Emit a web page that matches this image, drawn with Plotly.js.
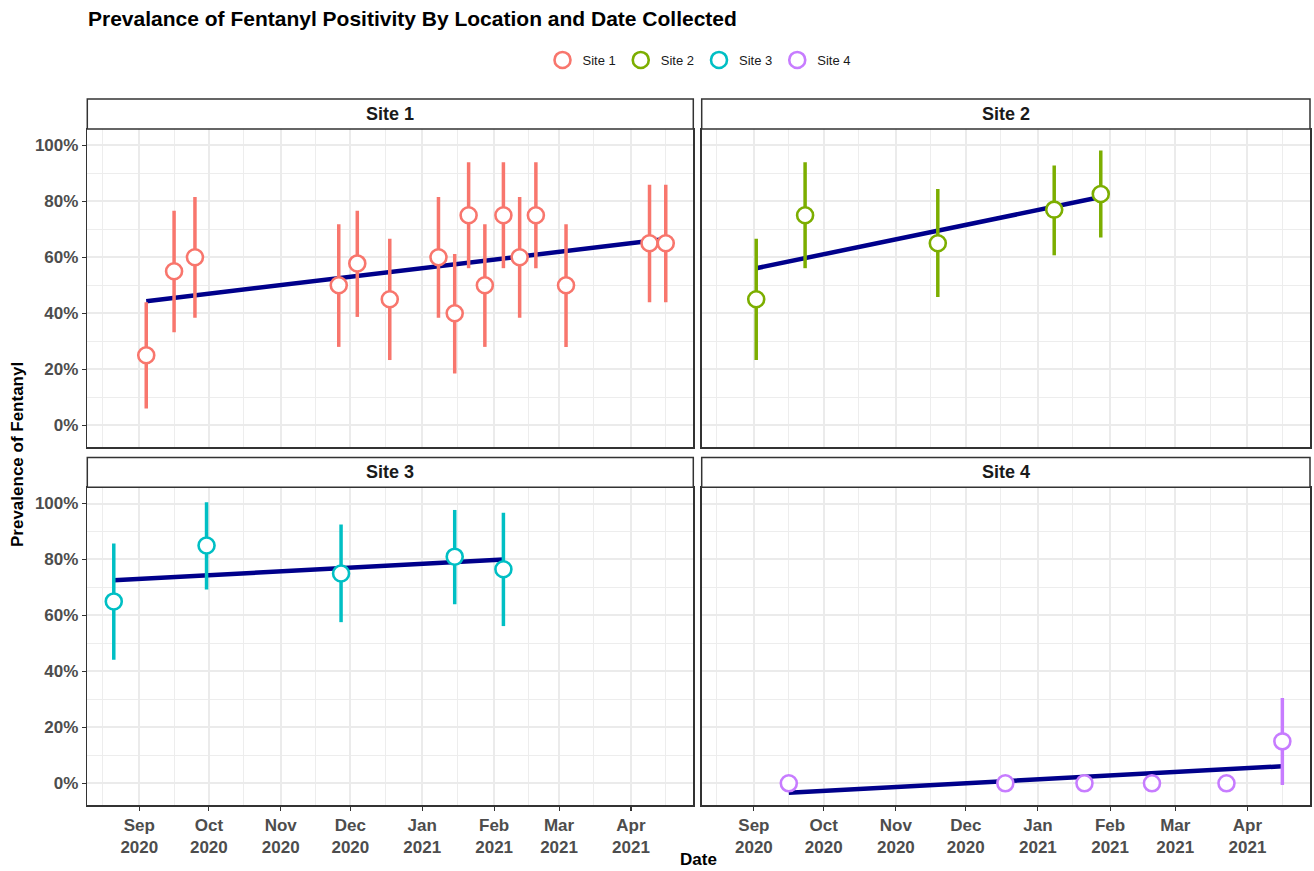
<!DOCTYPE html>
<html>
<head>
<meta charset="utf-8">
<script src="https://cdn.plot.ly/plotly-3.0.1.min.js"></script>
<style>html,body{margin:0;padding:0;background:#fff;}#chart{width:1314px;height:871px;}</style>
</head>
<body>
<div id="chart"></div>
<script>
// ---- data ----
const siteNames = ['Site 1', 'Site 2', 'Site 3', 'Site 4'];
const siteColors = ['#F8766D', '#7CAE00', '#00BFC4', '#C77CFF'];

const site1Dates = ['2020-09-04','2020-09-16','2020-09-25','2020-11-26','2020-12-04','2020-12-18','2021-01-08','2021-01-15','2021-01-21','2021-01-28','2021-02-05','2021-02-12','2021-02-19','2021-03-04','2021-04-09','2021-04-16'];
const site1Prev  = [0.25, 0.55, 0.60, 0.50, 0.578, 0.45, 0.60, 0.40, 0.75, 0.50, 0.75, 0.60, 0.75, 0.50, 0.65, 0.65];
const site1Lower = [0.060, 0.332, 0.384, 0.280, 0.387, 0.233, 0.384, 0.185, 0.561, 0.280, 0.561, 0.384, 0.561, 0.280, 0.439, 0.439];
const site1Upper = [0.439, 0.766, 0.815, 0.718, 0.766, 0.666, 0.815, 0.612, 0.939, 0.718, 0.939, 0.815, 0.939, 0.718, 0.859, 0.859];

const site2Dates = ['2020-09-02','2020-09-23','2020-11-19','2021-01-08','2021-01-28'];
const site2Prev  = [0.45, 0.75, 0.65, 0.77, 0.826];
const site2Lower = [0.233, 0.561, 0.458, 0.607, 0.671];
const site2Upper = [0.666, 0.939, 0.844, 0.928, 0.981];

const site3Dates = ['2020-08-21','2020-09-30','2020-11-27','2021-01-15','2021-02-05'];
const site3Prev  = [0.65, 0.85, 0.75, 0.81, 0.765];
const site3Lower = [0.442, 0.693, 0.576, 0.640, 0.562];
const site3Upper = [0.857, 1.005, 0.925, 0.977, 0.967];

const site4Dates = ['2020-09-16','2020-12-18','2021-01-21','2021-02-19','2021-03-23','2021-04-16'];
const site4Prev  = [0, 0, 0, 0, 0, 0.15];
const site4Lower = [0, 0, 0, 0, 0, -0.006];
const site4Upper = [0, 0, 0, 0, 0, 0.305];

// fitted trend lines (endpoints)
const trendDates = [['2020-09-04','2021-04-16'], ['2020-09-02','2021-01-28'], ['2020-08-21','2021-02-05'], ['2020-09-16','2021-04-16']];
const trendPrev  = [[0.443, 0.665], [0.561, 0.815], [0.726, 0.800], [-0.034, 0.061]];

const xTickStart = '2020-09-01';
const title = 'Prevalance of Fentanyl Positivity By Location and Date Collected';
const xTitle = 'Date';
const yTitle = 'Prevalence of Fentanyl';

// ---- build ----
const W = 1314, H = 871;
const FONT = 'Liberation Sans, Arial, sans-serif';
const px = v => v / W;
const py = v => 1 - v / H;

const dates = [site1Dates, site2Dates, site3Dates, site4Dates];
const prev = [site1Prev, site2Prev, site3Prev, site4Prev];
const lower = [site1Lower, site2Lower, site3Lower, site4Lower];
const upper = [site1Upper, site2Upper, site3Upper, site4Upper];

const colX = [[87.3, 693.3], [701.7, 1310]];
const rowY = [[129, 447], [487.3, 805]];
const stripY = [[99, 129], [457.5, 487.3]];

const traces = [];
const shapes = [];
const annotations = [];
const layout = {
  width: W, height: H,
  margin: {l: 0, r: 0, t: 0, b: 0},
  paper_bgcolor: '#fff', plot_bgcolor: '#fff',
  font: {family: FONT, color: '#1A1A1A'},
  title: {text: title, x: px(88), xanchor: 'left', y: py(19), yanchor: 'middle',
          font: {family: FONT, size: 21, weight: 'bold', color: '#000'}},
  showlegend: true,
  legend: {orientation: 'h', x: px(699), xanchor: 'center', y: py(60), yanchor: 'middle',
           font: {family: FONT, size: 13, color: '#1A1A1A'}, itemwidth: 30, bgcolor: 'rgba(0,0,0,0)'},
  shapes: shapes, annotations: annotations
};

for (let i = 0; i < 4; i++) {
  const r = Math.floor(i / 2), c = i % 2;
  const sfx = i === 0 ? '' : String(i + 1);
  const xa = 'x' + sfx, ya = 'y' + sfx;
  layout['xaxis' + sfx] = {
    domain: [px(colX[c][0]), px(colX[c][1])], anchor: ya,
    type: 'date', range: ['2020-08-09 14:00', '2021-04-27 21:00'],
    dtick: 'M1', tick0: xTickStart, tickformat: '%b<br>%Y',
    showgrid: true, gridcolor: '#EBEBEB', gridwidth: 2,
    minor: {dtick: 'M1', tick0: '2020-08-16', showgrid: true, gridcolor: '#EDEDED', gridwidth: 1},
    showline: true, mirror: true, linecolor: '#333333', linewidth: 1.5, zeroline: false,
    ticks: r === 1 ? 'outside' : '', ticklen: 4, tickcolor: '#333333', tickwidth: 1.1,
    showticklabels: r === 1,
    tickfont: {family: FONT, size: 17, weight: 'bold', color: '#4D4D4D'},
    fixedrange: true
  };
  layout['yaxis' + sfx] = {
    domain: [py(rowY[r][1]), py(rowY[r][0])], anchor: xa,
    range: [-0.0775, 1.058], dtick: 0.2, tick0: 0, tickformat: '.0%',
    showgrid: true, gridcolor: '#EBEBEB', gridwidth: 2,
    minor: {dtick: 0.1, tick0: 0, showgrid: true, gridcolor: '#EDEDED', gridwidth: 1},
    showline: true, mirror: true, linecolor: '#333333', linewidth: 1.5, zeroline: false,
    ticks: c === 0 ? 'outside' : '', ticklen: 4, tickcolor: '#333333', tickwidth: 1.1,
    showticklabels: c === 0,
    tickfont: {family: FONT, size: 17, weight: 'bold', color: '#4D4D4D'},
    fixedrange: true
  };

  // trend line
  traces.push({
    type: 'scatter', mode: 'lines', x: trendDates[i], y: trendPrev[i], xaxis: xa, yaxis: ya,
    line: {color: '#00008B', width: 4.5}, showlegend: false, hoverinfo: 'skip'
  });
  // points with error bars
  traces.push({
    type: 'scatter', mode: 'markers', name: siteNames[i], x: dates[i], y: prev[i], xaxis: xa, yaxis: ya,
    marker: {symbol: 'circle', size: 16, color: '#FFFFFF', line: {color: siteColors[i], width: 2.6}},
    error_y: {type: 'data', symmetric: false,
              array: upper[i].map((u, k) => u - prev[i][k]),
              arrayminus: lower[i].map((l, k) => prev[i][k] - l),
              color: siteColors[i], thickness: 3.5, width: 0},
    showlegend: true
  });

  // strip
  shapes.push({type: 'rect', xref: 'paper', yref: 'paper',
    x0: px(colX[c][0]), x1: px(colX[c][1]), y0: py(stripY[r][1]), y1: py(stripY[r][0]),
    fillcolor: '#FFFFFF', line: {color: '#333333', width: 1.5}, layer: 'above'});
  annotations.push({xref: 'paper', yref: 'paper', showarrow: false,
    x: px((colX[c][0] + colX[c][1]) / 2), y: py((stripY[r][0] + stripY[r][1]) / 2),
    xanchor: 'center', yanchor: 'middle', text: siteNames[i],
    font: {family: FONT, size: 18, weight: 'bold', color: '#1A1A1A'}});
}

annotations.push({xref: 'paper', yref: 'paper', showarrow: false, x: px(698), y: py(859),
  xanchor: 'center', yanchor: 'middle', text: xTitle,
  font: {family: FONT, size: 17, weight: 'bold', color: '#000'}});
annotations.push({xref: 'paper', yref: 'paper', showarrow: false, x: px(18), y: py(455),
  xanchor: 'center', yanchor: 'middle', text: yTitle, textangle: -90,
  font: {family: FONT, size: 17, weight: 'bold', color: '#000'}});

Plotly.newPlot('chart', traces, layout, {displayModeBar: false, staticPlot: true});
</script>
</body>
</html>
